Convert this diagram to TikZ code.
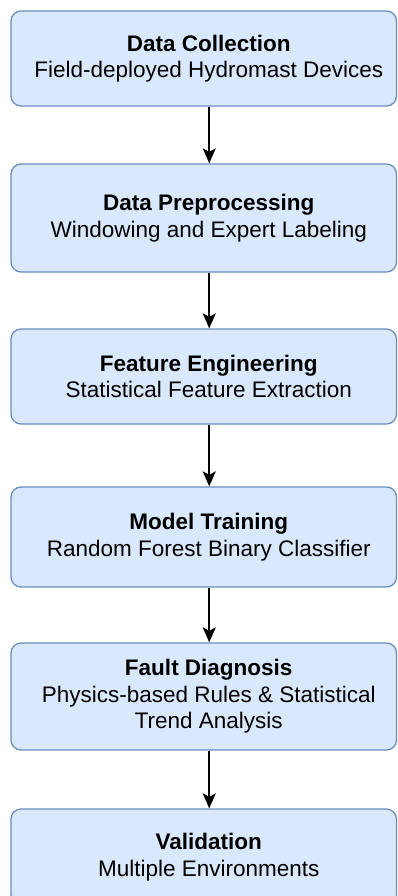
\documentclass[tikz,border=0pt]{standalone}
\usepackage{fontspec}
\setmainfont{Liberation Sans}
\usetikzlibrary{arrows.meta}
\definecolor{boxfill}{HTML}{DAE8FC}
\definecolor{boxline}{HTML}{6C8EBF}
\tikzset{
  stagebox/.style={draw=boxline, fill=boxfill, line width=1.3pt, rounded corners=10pt,
    rectangle, minimum width=385.5pt, inner sep=0pt},
  stagetext/.style={align=center, inner sep=0pt, font=\fontsize{22.5}{26.5}\selectfont},
  flow/.style={-{Stealth[length=15pt,width=13pt,inset=3.5pt]}, line width=1.7pt, black}
}
\begin{document}
\begin{tikzpicture}[x=1pt,y=-1pt]
\useasboundingbox (0,0) rectangle (397,896);
\node[stagebox, minimum height=95pt]  (b1) at (203.75,58.5) {};
\node[stagebox, minimum height=108pt] (b2) at (203.75,218) {};
\node[stagebox, minimum height=95pt]  (b3) at (203.75,376.5) {};
\node[stagebox, minimum height=100pt] (b4) at (203.75,537) {};
\node[stagebox, minimum height=107pt] (b5) at (203.75,696.5) {};
\node[stagebox, minimum height=96pt]  (b6) at (203.75,857) {};
\node[stagetext] (t1) at ([xshift=5pt]b1.center) {\textbf{Data Collection}\\Field-deployed Hydromast Devices};
\node[stagetext] (t2) at ([xshift=5pt]b2.center) {\textbf{Data Preprocessing}\\Windowing and Expert Labeling};
\node[stagetext] (t3) at ([xshift=5pt]b3.center) {\textbf{Feature Engineering}\\Statistical Feature Extraction};
\node[stagetext] (t4) at ([xshift=5pt]b4.center) {\textbf{Model Training}\\Random Forest Binary Classifier};
\node[stagetext] (t5) at ([xshift=5pt]b5.center) {\textbf{Fault Diagnosis}\\Physics-based Rules \& Statistical\\Trend Analysis};
\node[stagetext] (t6) at ([xshift=5pt]b6.center) {\textbf{Validation}\\Multiple Environments};
\draw[flow] ([xshift=5.5pt]b1.south) -- ([xshift=5.5pt]b2.north);
\draw[flow] ([xshift=5.5pt]b2.south) -- ([xshift=5.5pt]b3.north);
\draw[flow] ([xshift=5.5pt]b3.south) -- ([xshift=5.5pt]b4.north);
\draw[flow] ([xshift=5.5pt]b4.south) -- ([xshift=5.5pt]b5.north);
\draw[flow] ([xshift=5.5pt]b5.south) -- ([xshift=5.5pt]b6.north);
\end{tikzpicture}
\end{document}
